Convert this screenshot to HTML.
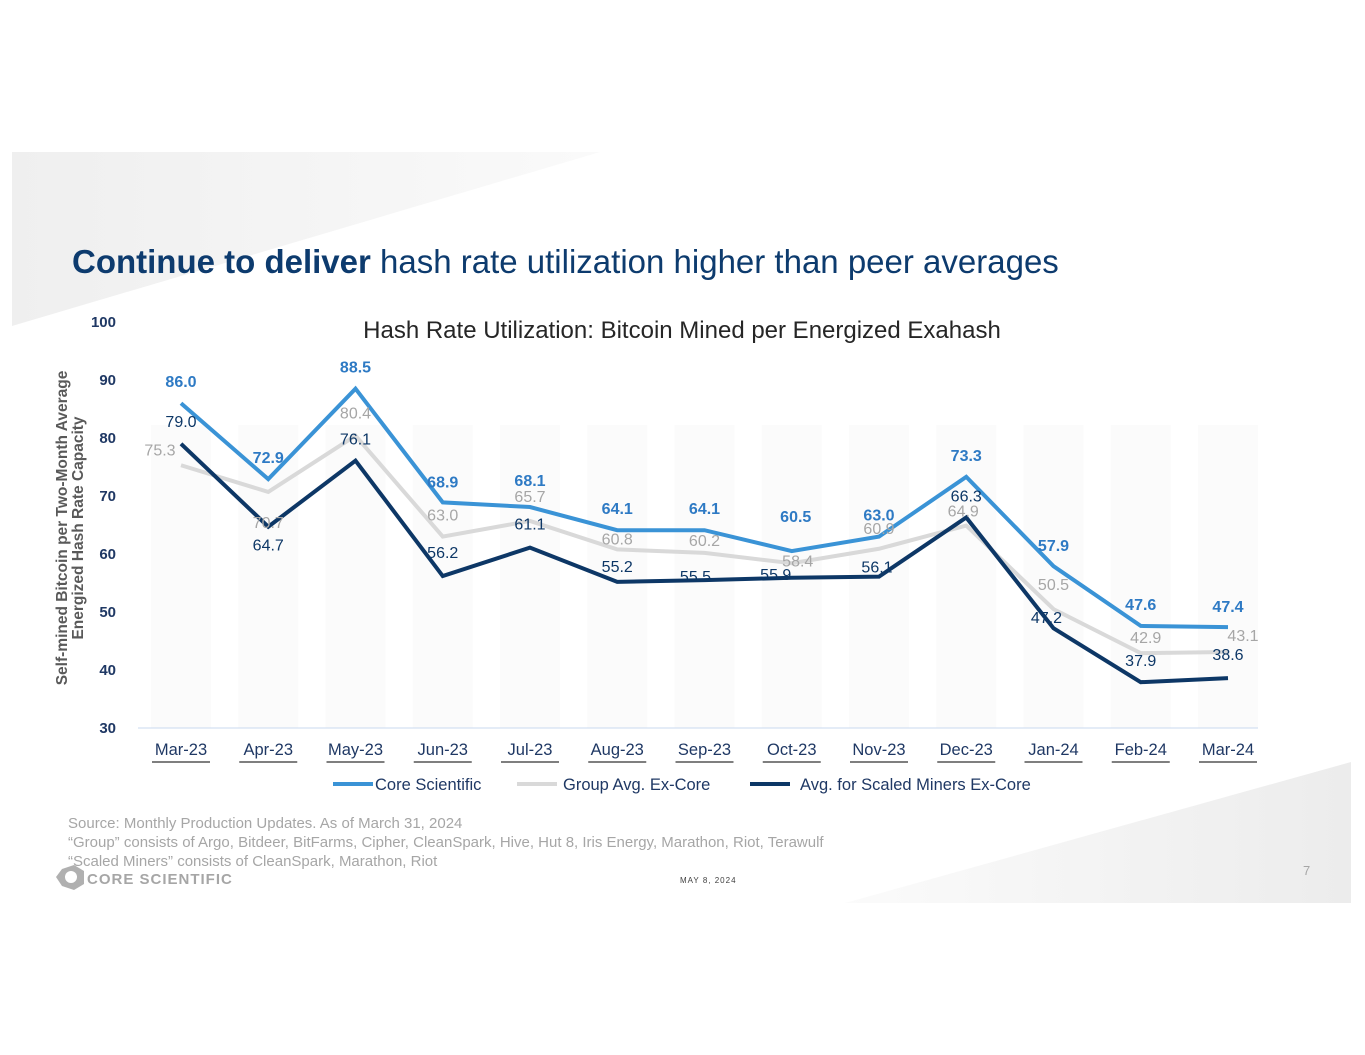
<!DOCTYPE html>
<html><head><meta charset="utf-8"><style>
body{margin:0;background:#fff;}
svg{display:block;font-family:"Liberation Sans",sans-serif;}
</style></head><body>
<svg id="c" width="1365" height="1055" viewBox="0 0 1365 1055">
<defs>
<linearGradient id="g1" x1="0" y1="0" x2="1" y2="0"><stop offset="0" stop-color="#efefef"/><stop offset="1" stop-color="#fafafa"/></linearGradient>
<linearGradient id="g2" x1="0" y1="0" x2="1" y2="0"><stop offset="0" stop-color="#fbfbfb"/><stop offset="1" stop-color="#ececec"/></linearGradient>
</defs>
<polygon points="12,152 600,152 12,326" fill="url(#g1)"/>
<polygon points="1351,762 1351,903 845,903" fill="url(#g2)"/>
<text x="72" y="273" font-size="33" fill="#0d3b6e"><tspan font-weight="bold">Continue to deliver</tspan> hash rate utilization higher than peer averages</text>
<text x="682" y="338" font-size="24" fill="#262626" text-anchor="middle">Hash Rate Utilization: Bitcoin Mined per Energized Exahash</text>
<g transform="translate(67,528) rotate(-90)">
<text x="0" y="0" font-size="15.5" font-weight="bold" fill="#595959" text-anchor="middle">Self-mined Bitcoin per Two-Month Average</text>
<text x="0" y="16" font-size="15.5" font-weight="bold" fill="#595959" text-anchor="middle">Energized Hash Rate Capacity</text>
</g>
<g id="cols"></g><g id="axes"></g><g id="lines"></g><g id="labels"></g>
<g>
<line x1="333" y1="784" x2="373" y2="784" stroke="#3a93d6" stroke-width="4"/>
<text x="375" y="790" font-size="16.5" fill="#1f3864">Core Scientific</text>
<line x1="517" y1="784" x2="557" y2="784" stroke="#d9d9d9" stroke-width="4"/>
<text x="563" y="790" font-size="16.5" fill="#1f3864">Group Avg. Ex-Core</text>
<line x1="750" y1="784" x2="790" y2="784" stroke="#0d3766" stroke-width="4"/>
<text x="800" y="790" font-size="16.5" fill="#1f3864">Avg. for Scaled Miners Ex-Core</text>
</g>
<g font-size="15" fill="#a6a6a6">
<text x="68" y="828">Source: Monthly Production Updates. As of March 31, 2024</text>
<text x="68" y="847">“Group” consists of Argo, Bitdeer, BitFarms, Cipher, CleanSpark, Hive, Hut 8, Iris Energy, Marathon, Riot, Terawulf</text>
<text x="68" y="866">“Scaled Miners” consists of CleanSpark, Marathon, Riot</text>
</g>
<g>
<polygon points="62,869 74,865 84,871 84,884 74,890 62,886 56,877" fill="#b0b0b0"/>
<circle cx="71" cy="877" r="6" fill="#fff"/>
<text x="87" y="884" font-size="15" font-weight="bold" fill="#a6a6a6" letter-spacing="1">CORE SCIENTIFIC</text>
</g>
<text x="680" y="883" font-size="8" fill="#404040" letter-spacing="1">MAY 8, 2024</text>
<text x="1303" y="875" font-size="13" fill="#a6a6a6">7</text>
</svg>
<script>
const categories=["Mar-23","Apr-23","May-23","Jun-23","Jul-23","Aug-23","Sep-23","Oct-23","Nov-23","Dec-23","Jan-24","Feb-24","Mar-24"];
const coreValues=[86.0,72.9,88.5,68.9,68.1,64.1,64.1,60.5,63.0,73.3,57.9,47.6,47.4];
const groupValues=[75.3,70.7,80.4,63.0,65.7,60.8,60.2,58.4,60.9,64.9,50.5,42.9,43.1];
const scaledValues=[79.0,64.7,76.1,56.2,61.1,55.2,55.5,55.9,56.1,66.3,47.2,37.9,38.6];
const yTicks=[30,40,50,60,70,80,90,100];
// label placement offsets (styling, not data)
const coreOff=[[0,-22],[0,-22],[0,-22],[0,-21],[0,-27],[0,-22],[0,-22],[4,-35],[0,-22],[0,-22],[0,-21],[0,-22],[0,-21]];
const groupOff=[[-21,-16],[0,30],[0,-23],[0,-22],[0,-25],[0,-11],[0,-13],[6,-3],[0,-21],[-3,-15],[0,-25],[5,-16],[15,-17]];
const scaledOff=[[0,-23],[0,18],[0,-22],[0,-24],[0,-24],[0,-16],[-9,-4],[-16,-4],[-2,-10],[0,-22],[-7,-11],[0,-22],[0,-24]];
const NS="http://www.w3.org/2000/svg";
const x=i=>181+i*87.25;
const y=v=>728-(v-30)*5.8;
function mk(tag,attrs,parent,text){const e=document.createElementNS(NS,tag);for(const k in attrs)e.setAttribute(k,attrs[k]);if(text!=null)e.textContent=text;document.getElementById(parent).appendChild(e);return e;}
categories.forEach((c,i)=>{
  const r=mk('rect',{x:x(i)-30,y:425,width:60,height:303,fill:'#fbfbfb'},'cols');
  
  
  const u=mk('rect',{x:x(i)-29,y:761,width:58,height:2,fill:'#7f7f7f'},'axes');
  
  
  const t=mk('text',{x:x(i),y:755,'font-size':16.5,fill:'#1f3864','text-anchor':'middle'},'axes',c);
  
  
});
const base=mk('line',{x1:138,y1:728,x2:1258,y2:728,stroke:'#c9d9ef','stroke-width':1},'axes');


yTicks.forEach(v=>{
  const t=mk('text',{x:116,y:y(v)+5,'font-size':15,'font-weight':'bold',fill:'#1f3864','text-anchor':'end'},'axes',String(v));
  
  
});
function series(vals,color,w,name,offs,lc,bold){
  const p=mk('polyline',{points:vals.map((v,i)=>x(i)+','+y(v)).join(' '),fill:'none',stroke:color,'stroke-width':w,'stroke-linejoin':'miter'},'lines');
  
  
  vals.forEach((v,i)=>{
    const t=mk('text',{x:x(i)+offs[i][0],y:y(v)+offs[i][1]+6,'font-size':16,'font-weight':bold?'bold':'normal',fill:lc,'text-anchor':'middle'},'labels',v.toFixed(1));
    
    
  });
}
series(groupValues,'#d9d9d9',4,'group-avg',groupOff,'#a6a6a6',false);
series(scaledValues,'#0d3766',4,'scaled-miners',scaledOff,'#0d3766',false);
series(coreValues,'#3a93d6',4,'core-scientific',coreOff,'#2e7ac4',true);
</script>
</body></html>
